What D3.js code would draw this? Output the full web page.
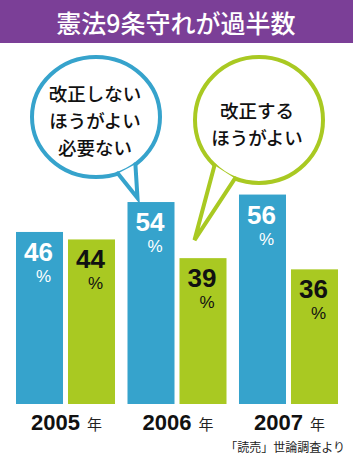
<!DOCTYPE html>
<html>
<head>
<meta charset="utf-8">
<script src="https://cdn.jsdelivr.net/npm/d3@7"></script>
<style>
html,body{margin:0;padding:0;background:#fff;}
svg{display:block;}
</style>
</head>
<body>
<script>
const title = "憲法9条守れが過半数";
const years = ["2005", "2006", "2007"];
const yearSuffix = "年";
const notAmend = [46, 54, 56];   // 改正しないほうがよい・必要ない
const amend = [44, 39, 36];      // 改正するほうがよい
const notAmendLabel = ["改正しない", "ほうがよい", "必要ない"];
const amendLabel = ["改正する", "ほうがよい"];
const source = "「読売」世論調査より";

const W = 355, H = 458;
const blue = "#36a3cc", green = "#a9c922", purple = "#7b3f97";
const jp = "'Noto Sans CJK JP', 'Noto Sans', sans-serif";
const latin = "'Liberation Sans', Arial, sans-serif";

const svg = d3.select("body").append("svg").attr("width", W).attr("height", H);

// header
svg.append("rect").attr("x", 0).attr("y", 0).attr("width", 353).attr("height", 43).attr("fill", purple);
svg.append("text").attr("x", 176).attr("y", 33).attr("text-anchor", "middle")
  .attr("fill", "#fff").attr("font-family", jp).attr("font-size", 25).attr("font-weight", 500)
  .text(title);

const x0 = d3.scaleBand().domain(years).range([16, 338]).paddingInner(0.112).paddingOuter(0);
const x1 = d3.scaleBand().domain([0, 1]).range([0, x0.bandwidth()]).paddingInner(0.096).paddingOuter(0);
const y = d3.scaleLinear().domain([0, 100]).range([404, 30]);

const rows = years.map((yr, i) => ({ yr, vals: [notAmend[i], amend[i]] }));

const g = svg.append("g");
const groups = g.selectAll("g.grp").data(rows).join("g").attr("class", "grp")
  .attr("transform", d => `translate(${x0(d.yr)},0)`);

groups.selectAll("rect").data(d => d.vals.map((v, k) => ({ v, k })))
  .join("rect")
  .attr("x", d => x1(d.k)).attr("width", x1.bandwidth())
  .attr("y", d => y(d.v)).attr("height", d => y(0) - y(d.v))
  .attr("fill", d => d.k === 0 ? blue : green);

const lbl = groups.selectAll("text.num").data(d => d.vals.map((v, k) => ({ v, k })))
  .join("text").attr("class", "num")
  .attr("text-anchor", "middle")
  .attr("font-family", latin)
  .attr("fill", d => d.k === 0 ? "#fff" : "#111");
lbl.append("tspan")
  .attr("x", d => x1(d.k) + x1.bandwidth() / 2 - 1)
  .attr("y", d => y(d.v) + 29)
  .attr("font-weight", "bold").attr("font-size", 26)
  .text(d => d.v);
lbl.append("tspan")
  .attr("x", d => x1(d.k) + x1.bandwidth() / 2 + 4)
  .attr("y", d => y(d.v) + 50)
  .attr("font-size", 17)
  .text("%");

// year labels
const yl = groups.append("text")
  .attr("x", x0.bandwidth() / 2 + 1).attr("y", 430)
  .attr("text-anchor", "middle").attr("fill", "#111");
yl.append("tspan").attr("font-family", latin).attr("font-weight", "bold").attr("font-size", 22).text(d => d.yr);
yl.append("tspan").attr("dx", 7).attr("font-family", jp).attr("font-size", 15).attr("fill", "#222").text(yearSuffix);

// source
svg.append("text").attr("x", 345).attr("y", 452).attr("text-anchor", "end")
  .attr("font-family", jp).attr("font-size", 12).attr("fill", "#222").text(source);

// speech bubbles
function bubble(cx, cy, rx, ry, t1, t2, tip, color, lines, tx, baselines) {
  const p = t => [cx + rx * Math.cos(t * Math.PI / 180), cy + ry * Math.sin(t * Math.PI / 180)];
  const bg = svg.append("g");
  bg.append("ellipse").attr("cx", cx).attr("cy", cy).attr("rx", rx).attr("ry", ry)
    .attr("fill", "#fff").attr("stroke", color).attr("stroke-width", 4);
  const a = p(t1), b = p(t2);
  bg.append("path").attr("d", `M${a[0]},${a[1]} L${tip[0]},${tip[1]} L${b[0]},${b[1]}`)
    .attr("fill", "#fff").attr("stroke", color).attr("stroke-width", 4)
    .attr("stroke-linejoin", "miter").attr("stroke-linecap", "round");
  const t = bg.append("text").attr("text-anchor", "middle")
    .attr("font-family", jp).attr("font-size", 18.5).attr("font-weight", 500).attr("fill", "#111");
  t.selectAll("tspan").data(lines).join("tspan")
    .attr("x", tx).attr("y", (d, i) => baselines[i])
    .text(d => d);
}

const x2006 = x0("2006");
bubble(96, 117, 64, 60, 70, 52,
  [x2006 + x1(0) + 10, y(notAmend[1]) - 4], blue, notAmendLabel, 95, [101, 128, 155]);
bubble(259, 120, 64, 63, 134, 112,
  [x2006 + x1(1) + 15, y(amend[1]) - 18], green, amendLabel, 257, [117.5, 144.5]);
</script>
</body>
</html>
